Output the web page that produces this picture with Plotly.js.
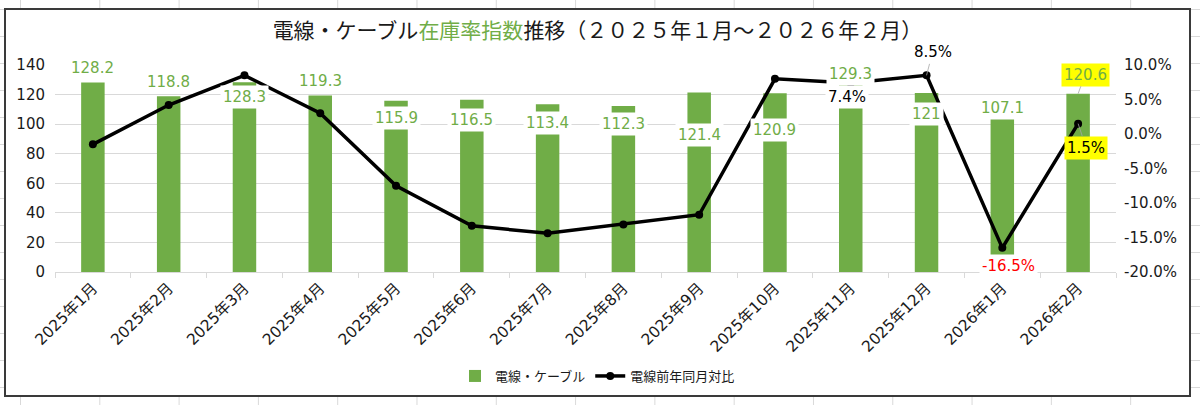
<!DOCTYPE html>
<html>
<head>
<meta charset="utf-8">
<script src="https://cdn.plot.ly/plotly-3.0.1.min.js"></script>
<style>
  html, body { margin: 0; padding: 0; }
  body {
    width: 1200px; height: 405px; overflow: hidden; position: relative;
    background-color: #fff;
    background-image:
      linear-gradient(to right, #d9d9d9 1px, transparent 1px),
      linear-gradient(to bottom, #d9d9d9 1px, transparent 1px);
    background-size: 79.3px 27px;
    background-position: 20px 9px;
  }
  #wrap {
    position: absolute; left: 4px; top: 8px;
    width: 1183px; height: 385px;
    border: 2px solid #3a3a3a; background: #fff;
  }
</style>
</head>
<body>
<div id="wrap"><div id="chart"></div></div>
<script>
// months on the x axis
const months = [
  "2025年1月", "2025年2月", "2025年3月", "2025年4月", "2025年5月", "2025年6月", "2025年7月",
  "2025年8月", "2025年9月", "2025年10月", "2025年11月", "2025年12月", "2026年1月", "2026年2月"
];
// 電線・ケーブル 在庫率指数 (left axis)
const cableIndex = [128.2, 118.8, 128.3, 119.3, 115.9, 116.5, 113.4, 112.3, 121.4, 120.9, 129.3, 121, 107.1, 120.6];
// 電線前年同月対比, % (right axis)
const yoyPct = [-1.5, 4.2, 8.5, 3.0, -7.5, -13.3, -14.4, -13.1, -11.7, 8.0, 7.4, 8.5, -16.5, 1.5];
// which yoy points carry a label
const yoyLabelIdx = [10, 11, 12, 13];

// label placement (pixels from the mark)
const barLabelOffset = [
  [0, -14], [0, -14], [0, 15], [0, -15], [0, 17], [0, 20], [0, 19],
  [0, 18], [0, 42], [0, 37], [0, -7], [0, 21], [0, -6], [7, -19]
];
const yoyLabelOffset = [[-4, 14], [6, -23], [6, 18], [8, 24]];

const GREEN = "#70ad47";
const FONT = "DejaVu Sans, Noto Sans CJK JP, sans-serif";

const annotations = [];
cableIndex.forEach((v, i) => {
  const last = i === cableIndex.length - 1;
  annotations.push({
    x: months[i], y: v, xref: "x", yref: "y",
    text: String(v),
    showarrow: true, arrowhead: 0, arrowwidth: 0.8,
    arrowcolor: last ? "#a6a6a6" : "rgba(0,0,0,0)",
    ax: barLabelOffset[i][0], ay: barLabelOffset[i][1],
    font: { family: FONT, size: 15, color: GREEN },
    bgcolor: last ? "#ffff00" : "#ffffff",
    borderpad: 2
  });
});
yoyLabelIdx.forEach((idx, k) => {
  const v = yoyPct[idx];
  const leader = idx === 11 || idx === 13;
  annotations.push({
    x: months[idx], y: v, xref: "x", yref: "y2",
    text: v.toFixed(1) + "%",
    showarrow: true, arrowhead: 0, arrowwidth: 0.8,
    arrowcolor: leader ? "#a6a6a6" : "rgba(0,0,0,0)",
    ax: yoyLabelOffset[k][0], ay: yoyLabelOffset[k][1],
    font: { family: FONT, size: 15, color: v < -10 ? "#ff0000" : "#000000" },
    bgcolor: idx === 13 ? "#ffff00" : (idx === 11 ? "rgba(0,0,0,0)" : "#ffffff"),
    borderpad: 2
  });
});

const rightTicks = [-20, -15, -10, -5, 0, 5, 10];

Plotly.newPlot("chart", [
  {
    type: "bar",
    name: "電線・ケーブル",
    x: months,
    y: cableIndex,
    marker: { color: GREEN },
    hoverinfo: "skip"
  },
  {
    type: "scatter",
    mode: "lines+markers",
    name: "電線前年同月対比",
    x: months,
    y: yoyPct,
    yaxis: "y2",
    line: { color: "#000000", width: 3.5 },
    marker: { color: "#000000", size: 8 },
    hoverinfo: "skip"
  }
], {
  width: 1183,
  height: 385,
  paper_bgcolor: "#ffffff",
  plot_bgcolor: "#ffffff",
  margin: { l: 49, r: 73, t: 55, b: 123, autoexpand: false },
  bargap: 0.69,
  title: {
    text: "電線・ケーブル<span style='color:" + GREEN + "'>在庫率指数</span>推移（２０２５年１月～２０２６年２月）",
    font: { family: "Noto Sans CJK JP", size: 21, color: "#1a1a1a" },
    x: 0.5, xanchor: "center",
    y: 1 - 21 / 385, yanchor: "middle", yref: "container"
  },
  font: { family: FONT, color: "#1a1a1a" },
  xaxis: {
    type: "category",
    range: [-0.5, months.length - 0.5],
    automargin: false,
    tickangle: -45,
    tickfont: { family: FONT, size: 15.5, color: "#1a1a1a" },
    showline: true, linecolor: "#d9d9d9", linewidth: 1,
    ticks: "outside", tickson: "boundaries", ticklen: 5, tickcolor: "#d9d9d9",
    showgrid: false
  },
  yaxis: {
    automargin: false,
    range: [0, 140],
    dtick: 20,
    tickfont: { family: FONT, size: 15, color: "#1a1a1a" },
    gridcolor: "#d9d9d9", gridwidth: 1,
    zeroline: false,
    showline: false,
    ticks: "", ticklabelstandoff: 9
  },
  yaxis2: {
    automargin: false,
    overlaying: "y",
    side: "right",
    range: [-20, 10],
    tickvals: rightTicks,
    ticktext: rightTicks.map(t => t.toFixed(1) + "%"),
    tickfont: { family: FONT, size: 15, color: "#1a1a1a" },
    ticklabelstandoff: 7,
    showgrid: false,
    zeroline: false,
    showline: false
  },
  showlegend: true,
  legend: {
    orientation: "h",
    x: 0.5, xanchor: "center", xref: "container",
    y: 1 - 366 / 385, yanchor: "middle", yref: "container",
    font: { family: "Noto Sans CJK JP", size: 13, color: "#1a1a1a" },
    itemwidth: 30,
    traceorder: "normal"
  },
  annotations: annotations
}, { displayModeBar: false, staticPlot: true });
</script>
</body>
</html>
